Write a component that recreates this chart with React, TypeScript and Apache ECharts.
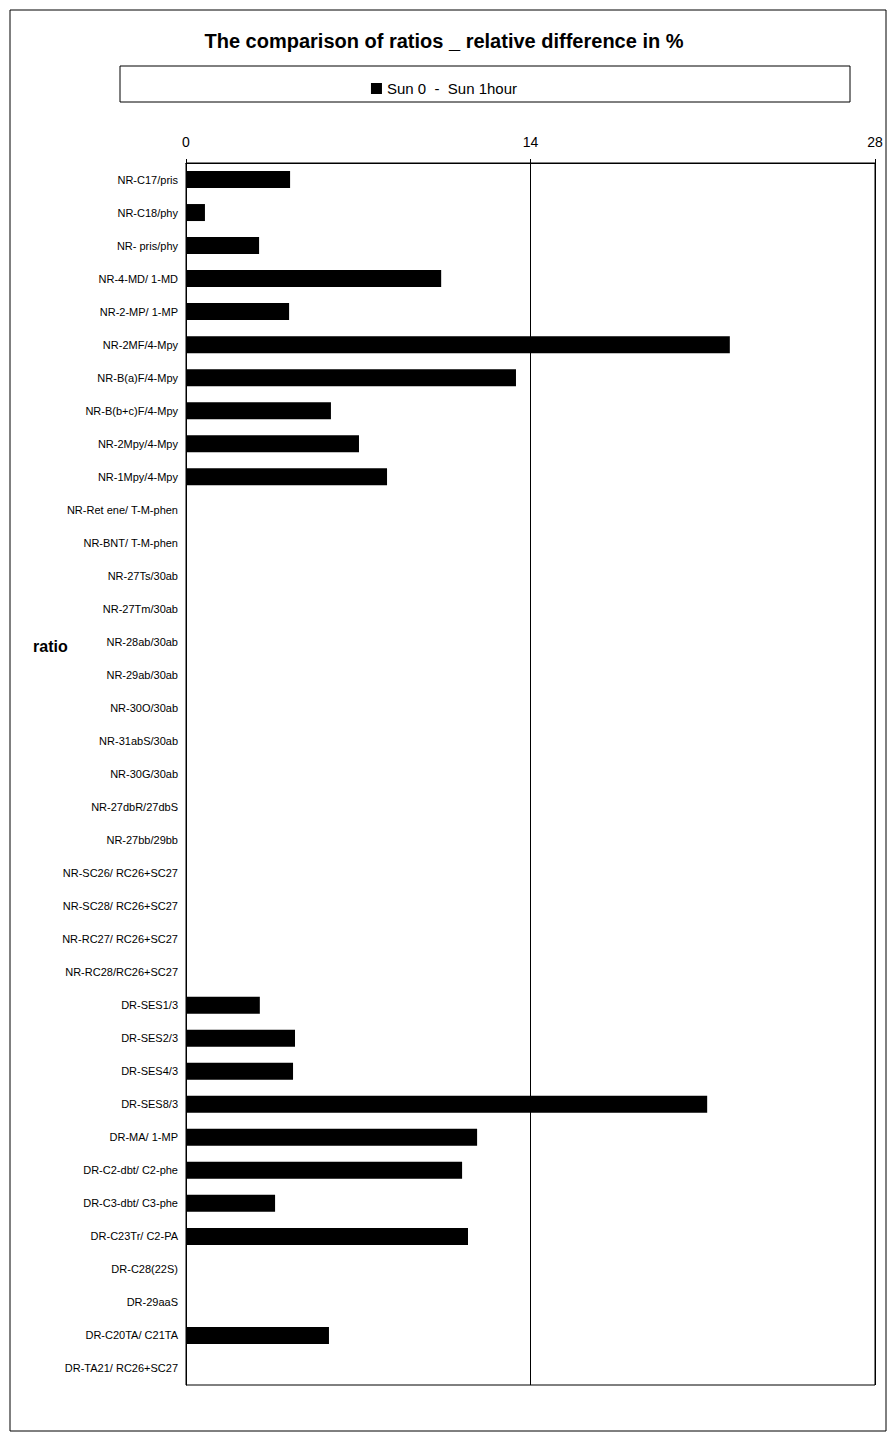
import React, { useEffect, useRef } from 'react';
import * as echarts from 'echarts';

const categories = [
  'NR-C17/pris', 'NR-C18/phy', 'NR- pris/phy', 'NR-4-MD/ 1-MD', 'NR-2-MP/ 1-MP',
  'NR-2MF/4-Mpy', 'NR-B(a)F/4-Mpy', 'NR-B(b+c)F/4-Mpy', 'NR-2Mpy/4-Mpy', 'NR-1Mpy/4-Mpy',
  'NR-Ret ene/ T-M-phen', 'NR-BNT/ T-M-phen', 'NR-27Ts/30ab', 'NR-27Tm/30ab', 'NR-28ab/30ab',
  'NR-29ab/30ab', 'NR-30O/30ab', 'NR-31abS/30ab', 'NR-30G/30ab', 'NR-27dbR/27dbS',
  'NR-27bb/29bb', 'NR-SC26/ RC26+SC27', 'NR-SC28/ RC26+SC27', 'NR-RC27/ RC26+SC27', 'NR-RC28/RC26+SC27',
  'DR-SES1/3', 'DR-SES2/3', 'DR-SES4/3', 'DR-SES8/3', 'DR-MA/ 1-MP',
  'DR-C2-dbt/ C2-phe', 'DR-C3-dbt/ C3-phe', 'DR-C23Tr/ C2-PA', 'DR-C28(22S)', 'DR-29aaS',
  'DR-C20TA/ C21TA', 'DR-TA21/ RC26+SC27',
];

const values: (number | null)[] = [
  4.23, 0.77, 2.97, 10.37, 4.19, 22.1, 13.41, 5.89, 7.03, 8.17,
  null, null, null, null, null, null, null, null, null, null,
  null, null, null, null, null,
  3.0, 4.43, 4.35, 21.18, 11.83, 11.22, 3.62, 11.46, null, null,
  5.81, null,
];

const seriesName = 'Sun 0  -  Sun 1hour';
const xTicks = { min: 0, max: 28, interval: 14 };

const App: React.FC = () => {
  const chartRef = useRef<HTMLDivElement>(null);

  useEffect(() => {
    if (!chartRef.current) return;
    const chart = echarts.init(chartRef.current, undefined, { renderer: 'svg' });
    chart.setOption({
      animation: false,
      backgroundColor: '#fff',
      textStyle: { fontFamily: 'Liberation Sans, Arial, sans-serif', color: '#000' },
      title: {
        text: 'The comparison of ratios _ relative difference in %',
        left: 'center',
        top: 26,
        textStyle: { fontSize: 20, fontWeight: 'bold', color: '#000' },
      },
      legend: {
        top: 76,
        left: 'center',
        itemWidth: 11,
        itemHeight: 11,
        itemGap: 4,
        textStyle: { fontSize: 15, color: '#000' },
        data: [{ name: seriesName, icon: 'rect' }],
      },
      graphic: [
        { type: 'rect', shape: { x: 10, y: 10, width: 876, height: 1421 }, style: { fill: 'none', stroke: '#000', lineWidth: 1 }, silent: true },
        { type: 'rect', shape: { x: 120, y: 66, width: 730, height: 36 }, style: { fill: 'none', stroke: '#000', lineWidth: 1 }, silent: true },
        { type: 'text', x: 33, y: 638, style: { text: 'ratio', font: 'bold 16px Liberation Sans, Arial, sans-serif', fill: '#000' } },
      ],
      grid: { left: 186, right: 13, top: 163, bottom: 54, show: true, borderColor: '#000', borderWidth: 1 },
      xAxis: {
        type: 'value',
        position: 'top',
        ...xTicks,
        axisLine: { show: true, lineStyle: { color: '#000' } },
        axisTick: { show: true, length: 4, lineStyle: { color: '#000' } },
        axisLabel: { fontSize: 14, color: '#000', margin: 14 },
        splitLine: { show: true, lineStyle: { color: '#000', width: 1 } },
      },
      yAxis: {
        type: 'category',
        inverse: true,
        data: categories,
        axisLine: { show: true, lineStyle: { color: '#000' } },
        axisTick: { show: false },
        axisLabel: { fontSize: 11, color: '#000', margin: 8 },
      },
      series: [
        {
          name: seriesName,
          type: 'bar',
          data: values,
          barWidth: 17,
          itemStyle: { color: '#000' },
        },
      ],
    });
    return () => chart.dispose();
  }, []);

  return <div ref={chartRef} style={{ position: 'absolute', left: 0, top: 0, width: 888, height: 1439 }} />;
};

export default App;
